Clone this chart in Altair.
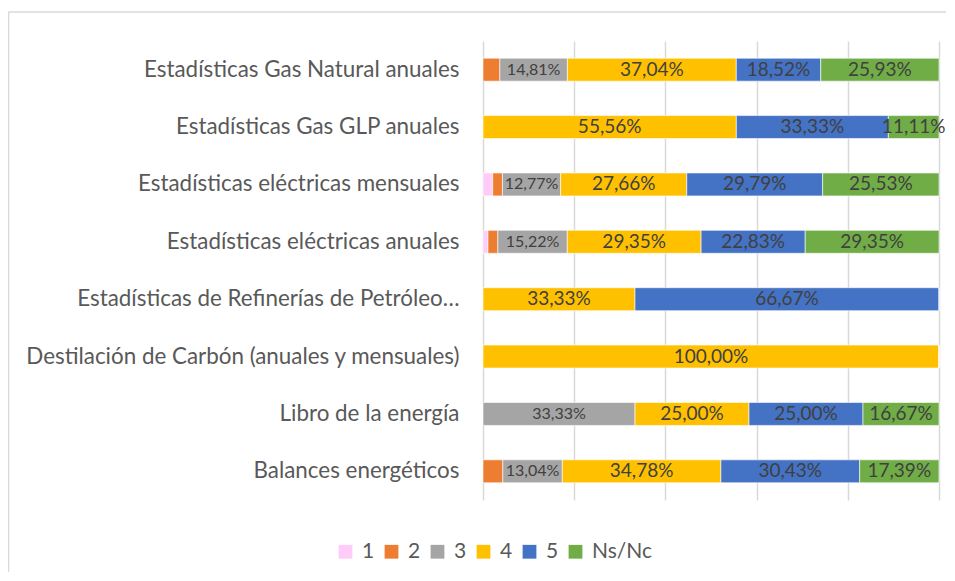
import altair as alt
import pandas as pd

categories = [
    "Estadísticas Gas Natural anuales",
    "Estadísticas Gas GLP anuales",
    "Estadísticas eléctricas mensuales",
    "Estadísticas eléctricas anuales",
    "Estadísticas de Refinerías de Petróleo…",
    "Destilación de Carbón (anuales y mensuales)",
    "Libro de la energía",
    "Balances energéticos",
]
series = ["1", "2", "3", "4", "5", "Ns/Nc"]
colors = ["#FFCCF7", "#ED7D31", "#A5A5A5", "#FFC000", "#4472C4", "#70AD47"]

values = {
    "1":     [0.00, 0.00, 2.13, 1.09, 0.00, 0.00, 0.00, 0.00],
    "2":     [3.70, 0.00, 2.13, 2.17, 0.00, 0.00, 0.00, 4.35],
    "3":     [14.81, 0.00, 12.77, 15.22, 0.00, 0.00, 33.33, 13.04],
    "4":     [37.04, 55.56, 27.66, 29.35, 33.33, 100.00, 25.00, 34.78],
    "5":     [18.52, 33.33, 29.79, 22.83, 66.67, 0.00, 25.00, 30.43],
    "Ns/Nc": [25.93, 11.11, 25.53, 29.35, 0.00, 0.00, 16.67, 17.39],
}

rows = []
for si, s in enumerate(series):
    for ci, c in enumerate(categories):
        v = values[s][ci]
        rows.append({
            "cat": c,
            "serie": s,
            "ord": si,
            "pct": v,
            "label": (f"{v:.2f}".replace(".", ",") + "%") if v >= 5 else "",
        })
df = pd.DataFrame(rows)

FONT = "Lato"

base = alt.Chart(df).transform_stack(
    stack="pct", groupby=["cat"], sort=[alt.SortField("ord")], as_=["x0", "x1"]
).transform_calculate(mid="(datum.x0 + datum.x1) / 2")

xscale = alt.Scale(domain=[0, 100], nice=False)
yscale = alt.Scale(domain=categories, paddingInner=0.6, paddingOuter=0.3)

bars = base.mark_bar(stroke="white", strokeWidth=0.6).encode(
    x=alt.X("x0:Q", scale=xscale,
            axis=alt.Axis(values=[0, 20, 40, 60, 80, 100], labels=False, ticks=False,
                          domain=False, grid=True, gridColor="#D9D9D9", gridWidth=1.5,
                          title=None)),
    x2="x1:Q",
    y=alt.Y("cat:N", scale=yscale, sort=categories,
            axis=alt.Axis(title=None, domain=False, ticks=False, labelPadding=24,
                          labelFont=FONT, labelFontSize=22.4, labelColor="#595959",
                          labelLimit=600)),
    color=alt.Color("serie:N", scale=alt.Scale(domain=series, range=colors),
                    legend=alt.Legend(title=None, orient="none", direction="horizontal",
                                      legendX=-148, legendY=500,
                                      symbolType="square", symbolSize=190,
                                      symbolStrokeWidth=0, labelFont=FONT,
                                      labelFontSize=21, labelColor="#595959",
                                      labelOffset=6, columnPadding=6)),
)

labels_big = base.transform_filter("datum.label != '' && datum.serie != '3'").mark_text(
    font=FONT, fontSize=19, color="#404040", baseline="middle", align="center"
).encode(
    x=alt.X("mid:Q", scale=xscale),
    y=alt.Y("cat:N", scale=yscale, sort=categories),
    text="label:N",
)
labels_small = base.transform_filter("datum.label != '' && datum.serie == '3'").mark_text(
    font=FONT, fontSize=16, color="#404040", baseline="middle", align="center"
).encode(
    x=alt.X("mid:Q", scale=xscale),
    y=alt.Y("cat:N", scale=yscale, sort=categories),
    text="label:N",
)

frame_data = pd.DataFrame({"k": [0]})
frame_top = alt.Chart(frame_data).mark_rule(color="#D9D9D9", strokeWidth=1.5).encode(
    x=alt.value(-474.5), x2=alt.value(463), y=alt.value(-29)
)
frame_left = alt.Chart(frame_data).mark_rule(color="#D9D9D9", strokeWidth=1.5).encode(
    x=alt.value(-474.5), y=alt.value(-29), y2=alt.value(531)
)

chart = alt.layer(frame_top, frame_left, bars, labels_big, labels_small).properties(
    width=456, height=459,
    autosize=alt.AutoSizeParams(type="none"),
    padding={"left": 475, "top": 33, "right": 8, "bottom": 73},
).configure_view(stroke=None)

chart.save("out.html", embed_options={"renderer": "svg", "actions": False})
